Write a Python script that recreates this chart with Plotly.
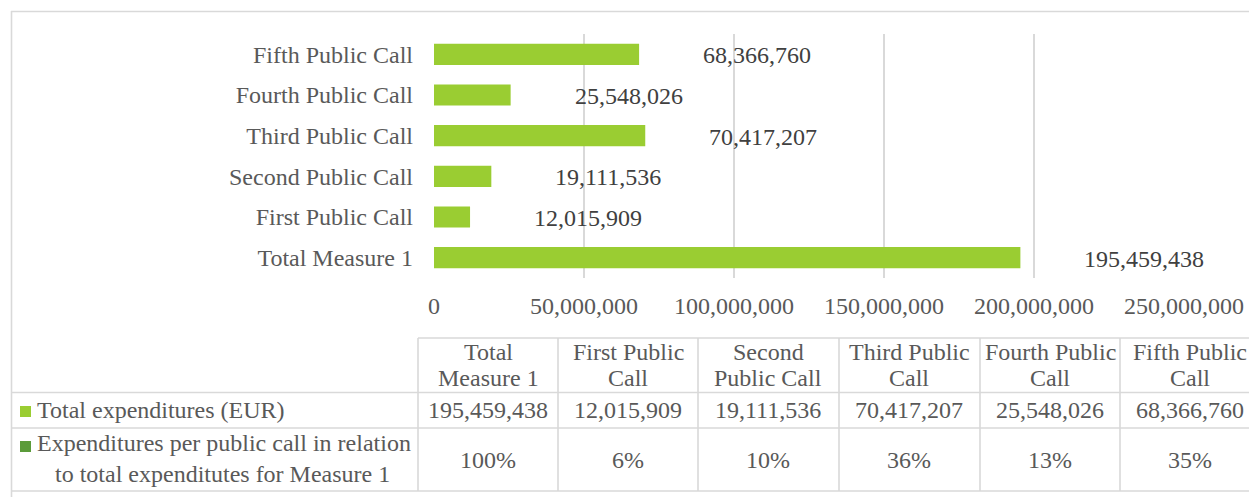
import plotly.graph_objects as go

# ---------------- data ----------------
categories = ["Total Measure 1", "First Public Call", "Second Public Call",
              "Third Public Call", "Fourth Public Call", "Fifth Public Call"]
expenditures = [195459438, 12015909, 19111536, 70417207, 25548026, 68366760]
shares_pct = [100, 6, 10, 36, 13, 35]
header_lines = [["Total", "Measure 1"], ["First Public", "Call"], ["Second", "Public Call"],
                ["Third Public", "Call"], ["Fourth Public", "Call"], ["Fifth Public", "Call"]]
x_ticks = [0, 50000000, 100000000, 150000000, 200000000, 250000000]
row_label_1 = "Total expenditures (EUR)"
row_label_2 = ["Expenditures per public call in relation", "to total expenditutes for Measure 1"]

# ---------------- style ----------------
W, H = 1249, 497
FONT = "Liberation Serif"
TXT = "#595959"
LBL = "#404040"
GRID = "#d9d9d9"
BAR = "#9ACD32"
DARK = "#5B9B3A"
FS = 24


def px(x):
    return x / W


def py(y):
    return 1 - y / H


fig = go.Figure()
fig.add_trace(go.Bar(
    x=expenditures, y=categories, orientation="h",
    marker=dict(color=BAR, line=dict(width=0)),
    hoverinfo="skip",
))

annotations = []
# data labels
for v, c in zip(expenditures, categories):
    annotations.append(dict(
        x=v, y=c, xref="x", yref="y", text=f"{v:,}", showarrow=False,
        xanchor="left", yanchor="middle", xshift=62, yshift=-1,
        font=dict(family=FONT, size=FS, color=LBL),
    ))

shapes = []


def hline(y, x0, x1):
    shapes.append(dict(type="line", xref="paper", yref="paper",
                       x0=px(x0), x1=px(x1), y0=py(y), y1=py(y),
                       line=dict(color=GRID, width=1.6)))


def vline(x, y0, y1):
    shapes.append(dict(type="line", xref="paper", yref="paper",
                       x0=px(x), x1=px(x), y0=py(y0), y1=py(y1),
                       line=dict(color=GRID, width=1.6)))


# outer border
hline(11.5, 11, W + 5)
vline(11.5, 11, H + 5)

# table grid
col_edges = [418, 558, 698, 839, 980, 1120, 1260]
t_top, h_bot, r1_bot, r2_bot = 338, 392.5, 428, 491
hline(t_top, col_edges[0], W + 5)
hline(h_bot, 12, W + 5)
hline(r1_bot, 12, W + 5)
hline(r2_bot, 12, W + 5)
for xe in col_edges[:-1]:
    vline(xe, t_top, r2_bot)


def txt(x, y, s, anchor="center", color=TXT):
    annotations.append(dict(
        x=px(x), y=py(y), xref="paper", yref="paper", text=s, showarrow=False,
        xanchor=anchor, yanchor="middle",
        font=dict(family=FONT, size=FS, color=color),
    ))


for i in range(len(categories)):
    cx = (col_edges[i] + col_edges[i + 1]) / 2
    txt(cx, 352, header_lines[i][0])
    txt(cx, 378, header_lines[i][1])
    txt(cx, 410, f"{expenditures[i]:,}")
    txt(cx, 460, f"{shares_pct[i]}%")

# legend keys + row headers
shapes.append(dict(type="rect", xref="paper", yref="paper",
                   x0=px(20), x1=px(31), y0=py(417), y1=py(406),
                   fillcolor=BAR, line=dict(width=0)))
shapes.append(dict(type="rect", xref="paper", yref="paper",
                   x0=px(20), x1=px(31), y0=py(452), y1=py(441),
                   fillcolor=DARK, line=dict(width=0)))
txt(35, 410, row_label_1, anchor="left")
txt(35, 443, row_label_2[0], anchor="left")
txt(222, 474, row_label_2[1])

fig.update_layout(
    width=W, height=H, autosize=False,
    margin=dict(l=0, r=0, t=0, b=0),
    paper_bgcolor="white", plot_bgcolor="white",
    showlegend=False, bargap=0.48,
    font=dict(family=FONT, size=FS, color=TXT),
    xaxis=dict(domain=[px(434), px(1184)], range=[0, 250000000],
               tickvals=x_ticks, ticktext=[f"{t:,}" for t in x_ticks],
               showgrid=True, gridcolor=GRID, gridwidth=1.6,
               zeroline=False, showline=False, ticks="", automargin=False,
               ticklabelstandoff=11,
               tickfont=dict(family=FONT, size=FS, color=TXT)),
    yaxis=dict(domain=[py(278), py(34)], type="category",
               showgrid=False, zeroline=False, showline=False, ticks="",
               automargin=False, ticklabelstandoff=20,
               tickfont=dict(family=FONT, size=FS, color=TXT)),
    shapes=shapes, annotations=annotations,
)

fig.write_html(
    "out.html",
    config={"displayModeBar": False},
    post_script="document.body.style.margin='0';document.body.style.overflow='hidden';",
)
